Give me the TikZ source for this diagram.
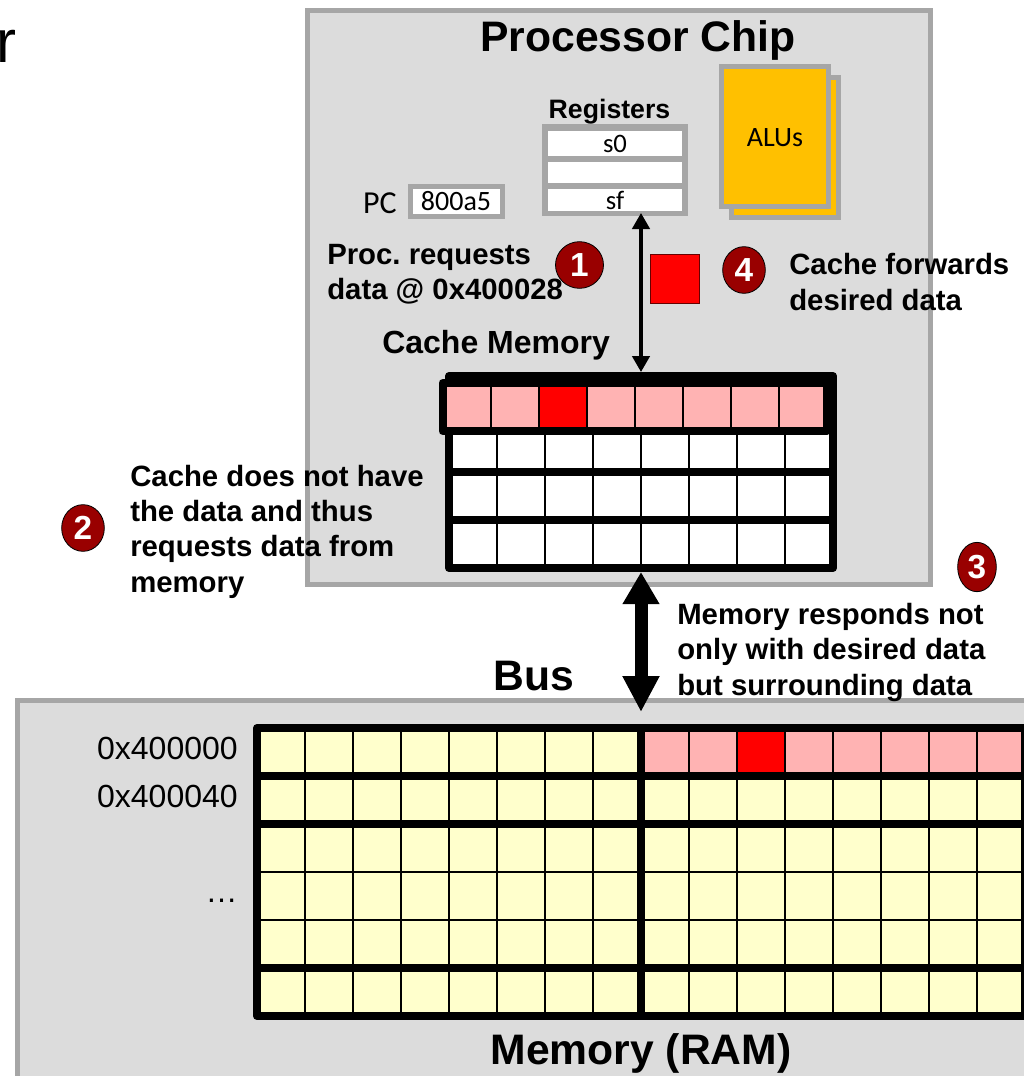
\documentclass[tikz,border=0pt]{standalone}
\usepackage{fontspec}
\setmainfont{Liberation Sans}
\newfontfamily\calfont{Carlito}
\usetikzlibrary{arrows.meta,shapes.geometric}

\definecolor{boxgray}{HTML}{A6A6A6}
\definecolor{panelgray}{HTML}{DCDCDC}
\definecolor{cellyellow}{HTML}{FFFFCC}
\definecolor{cellpink}{HTML}{FFB3B3}
\definecolor{alugold}{HTML}{FFC000}
\definecolor{badgered}{HTML}{990000}

\begin{document}
\begin{tikzpicture}[
  x=0.75pt, y=-0.75pt,
  panel/.style={draw=boxgray, fill=panelgray, line width=3.75pt},
  alubox/.style={draw=boxgray, fill=alugold, line width=3.75pt},
  regbox/.style={draw=boxgray, fill=boxgray, line width=4.5pt, inner sep=0pt, outer sep=0pt},
  regcell/.style={fill=white, inner sep=0pt, minimum width=100.5pt, font=\fontsize{20}{24}\calfont},
  tablebox/.style={draw=black, line width=6pt, line join=round, inner sep=0pt},
  rowline/.style={draw=black, line width=6pt},
  cellline/.style={draw=black, line width=1.5pt},
  badge/.style={ellipse, draw=black, fill=badgered, text=white, inner sep=0pt,
    line width=0.6pt, font=\fontsize{25}{29}\selectfont\bfseries},
  plabel/.style={inner sep=0pt, anchor=base west, align=left, font=\fontsize{22}{26.5}\selectfont\bfseries},
  bigtitle/.style={inner sep=0pt, anchor=base, font=\fontsize{32}{38}\selectfont\bfseries},
  addr/.style={inner sep=0pt, anchor=base east, font=\fontsize{24}{28}\selectfont},
]

% Page
\useasboundingbox (0,0) rectangle (1024,1076);
\clip (0,0) rectangle (1024,1076);

% Clipped slide title
\node[inner sep=0pt, anchor=base west, font=\fontsize{45}{54}\selectfont] (slidetitle) at (-4,62) {r};

% Memory panel and chip panel
\draw[panel] (17,700) rectangle (1100,1140);
\draw[panel] (307,10) rectangle (930,584.5);
\node[bigtitle] (chiptitle) at (638,51) {Processor Chip};
\node[bigtitle] (memtitle) at (641,1064) {Memory (RAM)};
\node[bigtitle] (bustitle) at (534,690) {Bus};

% ALUs
\draw[alubox] (731.5,77.5) rectangle (838.5,217.5);
\draw[alubox] (721.5,66.5) rectangle (828.5,206.5);
\node[font=\fontsize{21}{25}\calfont, inner sep=0pt] (alutext) at (775,138) {ALUs};

% Registers
\node[regbox, minimum width=105pt, minimum height=64.5pt] (regs) at (615,170) {};
\node[regcell, minimum height=18.75pt] (regtop) at (615,143.5) {s0};
\node[regcell, minimum height=15.75pt] (regmid) at (615,172.5) {};
\node[regcell, minimum height=16.5pt] (regend) at (615,200) {sf};
\node[inner sep=0pt, anchor=base, font=\fontsize{20}{24}\selectfont\bfseries] (regtitle) at (609.5,118) {Registers};

% PC
\node[draw=boxgray, fill=white, line width=3.75pt, inner sep=0pt, minimum width=69pt,
  minimum height=22.5pt, font=\fontsize{21}{25}\calfont] (pcvalue) at (456,201.5) {800a5};
\node[inner sep=0pt, font=\fontsize{24}{28}\calfont] (pclabel) at (380,203) {PC};

% Cache table
\node[tablebox, fill=white, minimum width=288pt, minimum height=144pt] (cache) at (641,472) {};
\foreach \i in {1,...,7} {
  \draw[cellline] ({449+48*\i},376) -- ++(0,192);
}
\foreach \r in {424,472,520} {
  \draw[rowline] (449,\r) -- (833,\r);
}

% Cache row holding the block
\fill[cellpink] (442.5,383) rectangle (826.5,431);
\fill[red] (538.5,383) rectangle (586.5,431);
\foreach \i in {1,...,7} {
  \draw[cellline] ({442.5+48*\i},383) -- ++(0,48);
}
\node[tablebox, minimum width=288pt, minimum height=36pt] (cacherow) at (634.5,407) {};

% Memory table
\fill[cellyellow] (257,728) rectangle (1025,1016);
\fill[cellpink] (641,728) rectangle (1025,776);
\fill[red] (737,728) rectangle (785,776);
\foreach \i in {1,...,15} {
  \draw[cellline] ({257+48*\i},728) -- ++(0,288);
}
\foreach \r in {872,920} {
  \draw[cellline] (257,\r) -- (1025,\r);
}
\foreach \r in {776,824,968} {
  \draw[rowline] (257,\r) -- (1025,\r);
}
\draw[rowline] (641,728) -- (641,1016);
\node[tablebox, minimum width=576pt, minimum height=216pt] (memtable) at (641,872) {};

% Addresses
\node[addr] (addrzero) at (238,759) {0x400000};
\node[addr] (addrone) at (238,807) {0x400040};
\node[addr] (addrdots) at (238,902) {\ldots};

% Connectors
\coordinate (busend) at (641,712);
\draw[{Triangle[length=24pt,width=26pt]}-{Triangle[length=27pt,width=26pt]}, line width=9.75pt]
  (cache.south) -- (busend);
\draw[{Triangle[length=12pt,width=13pt]}-{Triangle[length=12pt,width=13pt]}, line width=2.6pt]
  (cache.north |- regs.south) -- (cache.north);

% Data block on its way
\node[draw=black!60!red, fill=red, line width=0.75pt, inner sep=0pt, minimum size=36.5pt] (datum) at (675,279) {};

% Step badges
\node[badge, minimum width=36pt, minimum height=35pt] (stepone) at (579.5,265) {1};
\node[badge, minimum width=32pt, minimum height=35pt] (steptwo) at (83,528) {2};
\node[badge, minimum width=29pt, minimum height=37pt] (stepthree) at (977,567) {3};
\node[badge, minimum width=32pt, minimum height=35pt] (stepfour) at (744,270) {4};

% Notes
\node[plabel] (noteone) at (327,299.5) {Proc.\ requests\\data @ 0x400028};
\node[plabel] (notefour) at (789,310) {Cache forwards\\desired data};
\node[plabel, font=\fontsize{24}{28}\selectfont\bfseries] (cachetitle) at (382,353) {Cache Memory};
\node[plabel] (notetwo) at (130,592) {Cache does not have\\the data and thus\\requests data from\\memory};
\node[plabel] (notethree) at (677,695) {Memory responds not\\only with desired data\\but surrounding data};

\end{tikzpicture}
\end{document}
